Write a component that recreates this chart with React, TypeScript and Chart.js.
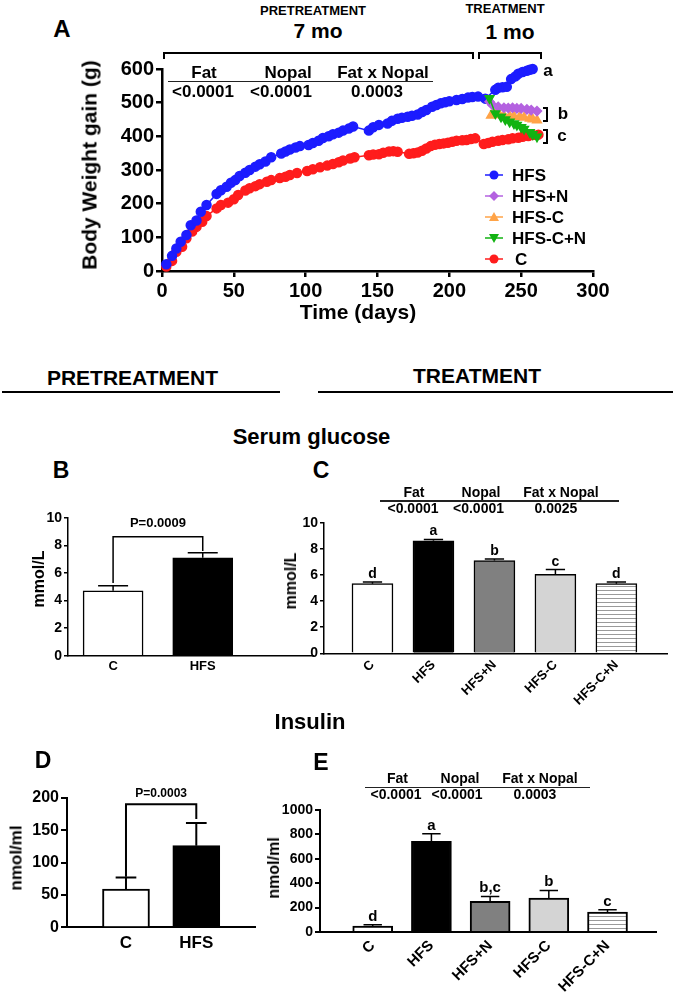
import React, { useEffect, useRef } from 'react';
import { Chart, registerables } from 'chart.js';

Chart.register(...registerables);

const FONT = 'Arial, "Liberation Sans", Helvetica, sans-serif';
Chart.defaults.font.family = FONT;
Chart.defaults.color = '#000';

// ---------------- Panel A: body weight gain ----------------
const xTicksA = [0, 50, 100, 150, 200, 250, 300];
const yTicksA = [0, 100, 200, 300, 400, 500, 600];

const hfsDays = [3, 7, 10, 13, 17, 20, 24, 27, 31, 38, 41, 45, 48, 51, 54, 58, 61, 65, 68, 72, 76, 83, 86, 89, 93, 96, 102, 105, 109, 112, 116, 119, 123, 126, 130, 133, 144, 147, 151, 157, 160, 164, 167, 171, 174, 178, 181, 184, 188, 191, 194, 197, 200, 205, 209, 213, 216, 220, 225, 232, 234, 237, 240, 243, 246, 248, 251, 254, 256, 258];
const hfsGain = [20, 45, 67, 87, 107, 136, 150, 176, 196, 229, 240, 250, 262, 270, 282, 292, 300, 310, 317, 325, 338, 349, 355, 361, 367, 371, 374, 380, 387, 395, 400, 406, 411, 417, 423, 429, 417, 427, 434, 438, 446, 452, 455, 458, 461, 465, 472, 478, 488, 493, 498, 501, 504, 508, 511, 515, 517, 518, 512, 538, 544, 546, 547, 570, 578, 586, 591, 595, 598, 600];

const cDays = [3, 7, 10, 14, 17, 21, 24, 28, 31, 38, 41, 46, 50, 53, 58, 61, 65, 68, 73, 76, 82, 86, 89, 94, 101, 105, 110, 115, 119, 123, 126, 131, 134, 144, 147, 151, 154, 158, 161, 164, 172, 175, 178, 181, 184, 187, 190, 193, 196, 199, 202, 205, 209, 212, 215, 218, 224, 227, 230, 234, 237, 241, 244, 248, 251, 255, 258, 262];
const cGain = [13, 30, 57, 72, 97, 117, 131, 146, 163, 186, 196, 203, 213, 226, 239, 246, 252, 258, 265, 270, 276, 280, 285, 291, 297, 302, 308, 313, 318, 323, 328, 334, 338, 344, 346, 347, 351, 355, 356, 354, 348, 350, 352, 357, 364, 371, 375, 377, 379, 381, 384, 387, 388, 389, 392, 394, 377, 380, 384, 387, 389, 391, 394, 396, 399, 401, 404, 405];

const hfsNDays = [228, 230, 234, 238, 241, 244, 247, 250, 254, 257, 261];
const hfsNGain = [503, 493, 488, 485, 484, 485, 483, 483, 480, 478, 475];

const hfsCDays = [229, 232, 235, 238, 242, 245, 249, 252, 256, 258, 261];
const hfsCGain = [462, 466, 463, 461, 460, 459, 458, 456, 453, 451, 448];

const hfsCNDays = [228, 232, 236, 239, 242, 245, 247, 250, 252, 256, 258, 261];
const hfsCNGain = [513, 468, 458, 450, 443, 438, 434, 427, 422, 412, 406, 399];

const legendNames = ['HFS', 'HFS+N', 'HFS-C', 'HFS-C+N', 'C'];

// ---------------- Stats tables ----------------
const statHeaders = ['Fat', 'Nopal', 'Fat x Nopal'];
const statsWeight = ['<0.0001', '<0.0001', '0.0003'];
const statsGlucose = ['<0.0001', '<0.0001', '0.0025'];
const statsInsulin = ['<0.0001', '<0.0001', '0.0003'];

// ---------------- Bar panels ----------------
const groupsPre = ['C', 'HFS'];
const groupsTreat = ['C', 'HFS', 'HFS+N', 'HFS-C', 'HFS-C+N'];

const glucoseTicks = [0, 2, 4, 6, 8, 10];
const glucosePreMean = [4.7, 7.1];
const glucosePreSem = [0.36, 0.36];
const glucosePreBracket = [8.62, 5.27, 7.59];
const glucosePreP = 'P=0.0009';

const glucoseTreatMean = [5.33, 8.62, 7.1, 6.05, 5.33];
const glucoseTreatSem = [0.13, 0.1, 0.13, 0.36, 0.13];
const glucoseLetters = ['d', 'a', 'b', 'c', 'd'];

const insulinPreTicks = [0, 50, 100, 150, 200];
const insulinPreMean = [59, 126];
const insulinPreSem = [18, 35];
const insulinPreBracket = [190, 78, 167];
const insulinPreP = 'P=0.0003';

const insulinTreatTicks = [0, 200, 400, 600, 800, 1000];
const insulinTreatMean = [49, 744, 251, 278, 164];
const insulinTreatSem = [11, 61, 41, 63, 19];
const insulinLetters = ['d', 'a', 'b,c', 'b', 'c'];

// ---------------- colours ----------------
const BLUE = '#1c1cff';
const PURPLE = '#b462e0';
const ORANGE = '#ffa347';
const GREEN = '#12b312';
const RED = '#ff1c1c';

type Box = { left: number; top: number; width: number; height: number };
type Area = { l: number; t: number; r: number; b: number };

function frame(box: Box, area: Area) {
  return {
    padding: { left: 0, top: area.t - box.top, right: box.left + box.width - area.r, bottom: 0 },
    yWidth: area.l - box.left,
    xHeight: box.top + box.height - area.b,
  };
}

function stripePattern(): any {
  const c = document.createElement('canvas');
  c.width = 8;
  c.height = 4;
  const g = c.getContext('2d')!;
  g.fillStyle = '#ffffff';
  g.fillRect(0, 0, 8, 4);
  g.fillStyle = '#9a9a9a';
  g.fillRect(0, 1, 8, 1);
  return g.createPattern(c, 'repeat');
}

function yAxis(min: number, max: number, ticks: number[], size: number, tickLen: number, bw: number, width: number) {
  return {
    type: 'linear',
    min,
    max,
    afterBuildTicks: (s: any) => {
      s.ticks = ticks.map((v) => ({ value: v }));
    },
    afterFit: (s: any) => {
      s.width = width;
    },
    grid: { display: true, drawOnChartArea: false, drawTicks: true, tickLength: tickLen, color: '#000', lineWidth: bw },
    border: { display: true, color: '#000', width: bw },
    ticks: {
      font: { size, weight: 'bold', family: FONT },
      color: '#000',
      padding: 2,
      callback: (v: any) => String(v),
    },
  };
}

function xGroups(min: number, max: number, labels: string[], size: number, bw: number, height: number, rot: number, pad: number) {
  return {
    type: 'linear',
    min,
    max,
    offset: false,
    afterBuildTicks: (s: any) => {
      s.ticks = labels.map((_, i) => ({ value: i + 1 }));
    },
    afterFit: (s: any) => {
      s.height = height;
    },
    grid: { display: false, drawTicks: false },
    border: { display: true, color: '#000', width: bw },
    ticks: {
      autoSkip: false,
      minRotation: rot,
      maxRotation: rot,
      padding: pad,
      font: { size, weight: 'bold', family: FONT },
      color: '#000',
      callback: (v: any) => labels[Math.round(Number(v)) - 1] ?? '',
    },
  };
}

function errorPlugin(means: number[], sems: number[], opts: any) {
  return {
    id: 'errbars',
    afterDatasetsDraw(chart: any) {
      const ctx = chart.ctx;
      const ys = chart.scales.y;
      const xs = chart.scales.x;
      const bars = chart.getDatasetMeta(0).data;
      ctx.save();
      ctx.strokeStyle = '#000';
      ctx.fillStyle = '#000';
      ctx.lineWidth = opts.lw;
      bars.forEach((bar: any, i: number) => {
        const x = bar.x;
        const w = bar.width;
        const y0 = ys.getPixelForValue(means[i]);
        const y1 = ys.getPixelForValue(means[i] + sems[i]);
        ctx.beginPath();
        ctx.moveTo(x, y0);
        ctx.lineTo(x, y1);
        ctx.moveTo(x - (w * opts.cap) / 2, y1);
        ctx.lineTo(x + (w * opts.cap) / 2, y1);
        ctx.stroke();
        if (opts.letters) {
          ctx.font = `bold ${opts.letterSize}px ${FONT}`;
          ctx.textAlign = 'center';
          ctx.textBaseline = 'alphabetic';
          ctx.fillText(opts.letters[i], x, y1 - 4);
        }
      });
      if (opts.bracket) {
        const [yv, lv, rv] = opts.bracket;
        const xl = xs.getPixelForValue(1);
        const xr = xs.getPixelForValue(2);
        const yb = ys.getPixelForValue(yv);
        ctx.beginPath();
        ctx.moveTo(xl, ys.getPixelForValue(lv));
        ctx.lineTo(xl, yb);
        ctx.lineTo(xr, yb);
        ctx.lineTo(xr, ys.getPixelForValue(rv));
        ctx.stroke();
        ctx.font = `bold ${opts.pSize}px ${FONT}`;
        ctx.textAlign = 'center';
        ctx.textBaseline = 'middle';
        ctx.fillText(opts.pText, (xl + xr) / 2, yb - opts.pGap);
      }
      ctx.restore();
    },
  };
}

function barConfig(box: Box, area: Area, p: any) {
  const f = frame(box, area);
  return {
    type: 'bar',
    data: {
      datasets: [
        {
          data: p.means.map((m: number, i: number) => ({ x: i + 1, y: m })),
          backgroundColor: p.fills,
          borderColor: '#000',
          borderWidth: p.bw,
          barThickness: p.thick,
          borderSkipped: 'start',
        },
      ],
    },
    options: {
      animation: false,
      responsive: false,
      devicePixelRatio: 1,
      layout: { padding: f.padding },
      plugins: { legend: { display: false }, tooltip: { enabled: false } },
      scales: {
        x: xGroups(p.xmin, p.xmax, p.labels, p.xFont, p.axisW, f.xHeight, p.rot, p.xPad),
        y: yAxis(0, p.ymax, p.yTicks, p.yFont, p.tickLen, p.axisW, f.yWidth),
      },
    },
    plugins: [errorPlugin(p.means, p.sems, p.err)],
  };
}

function pts(xs: number[], ys: number[]) {
  return xs.map((x, i) => ({ x, y: ys[i] }));
}

const boxA: Box = { left: 60, top: 40, width: 575, height: 265 };
const areaA: Area = { l: 162, t: 69, r: 593, b: 271 };

function buildA() {
  const f = frame(boxA, areaA);
  const ds = (label: string, data: any[], color: string, style: string, radius: number, rot = 0) => ({
    label,
    data,
    borderColor: color,
    backgroundColor: color,
    pointBackgroundColor: color,
    pointBorderColor: color,
    pointStyle: style,
    pointRadius: radius,
    pointRotation: rot,
    borderWidth: 1.5,
    tension: 0,
    clip: false,
  });
  return {
    type: 'line',
    data: {
      datasets: [
        ds('HFS-C+N', pts(hfsCNDays, hfsCNGain), GREEN, 'triangle', 5, 180),
        ds('HFS+N', pts(hfsNDays, hfsNGain), PURPLE, 'rectRot', 4.5),
        ds('HFS-C', pts(hfsCDays, hfsCGain), ORANGE, 'triangle', 5),
        ds('HFS', pts(hfsDays, hfsGain), BLUE, 'circle', 4.5),
        ds('C', pts(cDays, cGain), RED, 'circle', 4.5),
      ],
    },
    options: {
      animation: false,
      responsive: false,
      devicePixelRatio: 1,
      layout: { padding: f.padding },
      plugins: { legend: { display: false }, tooltip: { enabled: false } },
      scales: {
        x: {
          type: 'linear',
          min: 0,
          max: 300,
          afterBuildTicks: (s: any) => {
            s.ticks = xTicksA.map((v) => ({ value: v }));
          },
          afterFit: (s: any) => {
            s.height = f.xHeight;
          },
          grid: { display: true, drawOnChartArea: false, drawTicks: true, tickLength: 6, color: '#000', lineWidth: 2.5 },
          border: { display: true, color: '#000', width: 2.5 },
          ticks: { font: { size: 20, weight: 'bold', family: FONT }, color: '#000', padding: 2, callback: (v: any) => String(v) },
        },
        y: yAxis(0, 600, yTicksA, 20, 6, 2.5, f.yWidth),
      },
    },
  };
}

const boxB: Box = { left: 30, top: 500, width: 295, height: 180 };
const areaB: Area = { l: 68, t: 517.7, r: 313, b: 655.7 };
const boxC: Box = { left: 290, top: 505, width: 385, height: 225 };
const areaC: Area = { l: 324, t: 522.7, r: 667, b: 653.3 };
const boxD: Box = { left: 10, top: 780, width: 260, height: 180 };
const areaD: Area = { l: 67, t: 797.7, r: 255, b: 927.3 };
const boxE: Box = { left: 270, top: 795, width: 405, height: 202 };
const areaE: Area = { l: 320, t: 810, r: 656, b: 932 };

function treatFills() {
  return ['#ffffff', '#000000', '#808080', '#d4d4d4', stripePattern()];
}

const buildB = () =>
  barConfig(boxB, areaB, {
    means: glucosePreMean, sems: glucosePreSem, fills: ['#ffffff', '#000000'], bw: 1.5, thick: 60,
    xmin: 0.497, xmax: 3.23, labels: groupsPre, xFont: 13, axisW: 1.5, rot: 0, xPad: 3,
    ymax: 10, yTicks: glucoseTicks, yFont: 14, tickLen: 4,
    err: { lw: 1.5, cap: 0.5, bracket: glucosePreBracket, pText: glucosePreP, pSize: 13, pGap: 13 },
  });

const buildC = () =>
  barConfig(boxC, areaC, {
    means: glucoseTreatMean, sems: glucoseTreatSem, fills: treatFills(), bw: 1.5, thick: 41,
    xmin: 0.205, xmax: 5.83, labels: groupsTreat, xFont: 13, axisW: 1.5, rot: 45, xPad: 4,
    ymax: 10, yTicks: glucoseTicks, yFont: 14, tickLen: 4,
    err: { lw: 1.5, cap: 0.47, letters: glucoseLetters, letterSize: 14 },
  });

const buildD = () =>
  barConfig(boxD, areaD, {
    means: insulinPreMean, sems: insulinPreSem, fills: ['#ffffff', '#000000'], bw: 2, thick: 47,
    xmin: 0.161, xmax: 2.835, labels: groupsPre, xFont: 17, axisW: 2, rot: 0, xPad: 6,
    ymax: 200, yTicks: insulinPreTicks, yFont: 16, tickLen: 6,
    err: { lw: 2, cap: 0.44, bracket: insulinPreBracket, pText: insulinPreP, pSize: 12, pGap: 10 },
  });

const buildE = () =>
  barConfig(boxE, areaE, {
    means: insulinTreatMean, sems: insulinTreatSem, fills: treatFills(), bw: 2, thick: 40,
    xmin: 0.102, xmax: 5.826, labels: groupsTreat, xFont: 15, axisW: 2, rot: 45, xPad: 5,
    ymax: 1000, yTicks: insulinTreatTicks, yFont: 14, tickLen: 5,
    err: { lw: 1.5, cap: 0.46, letters: insulinLetters, letterSize: 15 },
  });

function ChartBox({ box, build }: { box: Box; build: () => any }) {
  const ref = useRef<HTMLCanvasElement>(null);
  useEffect(() => {
    const chart = new Chart(ref.current as HTMLCanvasElement, build());
    return () => chart.destroy();
  }, []);
  return (
    <canvas
      ref={ref}
      width={box.width}
      height={box.height}
      style={{ position: 'absolute', left: box.left, top: box.top, width: box.width, height: box.height }}
    />
  );
}

function T({ x, y, s, children, rot = false, left = false }: any) {
  return (
    <div
      style={{
        position: 'absolute',
        left: x,
        top: y,
        transform: `translate(${left ? '0' : '-50%'},-50%)${rot ? ' rotate(-90deg)' : ''}`,
        fontFamily: FONT,
        fontWeight: 'bold',
        fontSize: s,
        lineHeight: 1,
        whiteSpace: 'nowrap',
        color: '#000',
      }}
    >
      {children}
    </div>
  );
}

function HLine({ x1, x2, y, w = 1, color = '#000' }: any) {
  return <div style={{ position: 'absolute', left: x1, top: y - w / 2, width: x2 - x1, height: w, background: color }} />;
}

function Stats({ hx, hy, vx, vy, ly, lx1, lx2, s, values }: any) {
  return (
    <>
      {statHeaders.map((h, i) => (
        <T key={'h' + i} x={hx[i]} y={hy} s={s}>{h}</T>
      ))}
      <HLine x1={lx1} x2={lx2} y={ly} w={1.3} color="#222" />
      {values.map((v: string, i: number) => (
        <T key={'v' + i} x={vx[i]} y={vy} s={s}>{v}</T>
      ))}
    </>
  );
}

function Marker({ kind, color }: { kind: string; color: string }) {
  let shape: any = null;
  if (kind === 'circle') shape = <circle cx={9} cy={6} r={4.5} fill={color} />;
  if (kind === 'diamond') shape = <polygon points="9,1 14,6 9,11 4,6" fill={color} />;
  if (kind === 'up') shape = <polygon points="9,1 14,10 4,10" fill={color} />;
  if (kind === 'down') shape = <polygon points="4,2 14,2 9,11" fill={color} />;
  return (
    <svg width={18} height={12} style={{ display: 'block' }}>
      <line x1={0} y1={6} x2={18} y2={6} stroke={color} strokeWidth={1.5} />
      {shape}
    </svg>
  );
}

const legendColors = [BLUE, PURPLE, ORANGE, GREEN, RED];
const legendKinds = ['circle', 'diamond', 'up', 'down', 'circle'];
const legendY = [175, 196, 217, 238, 259];

function Bracket({ x, y, h }: any) {
  return (
    <div
      style={{
        position: 'absolute', left: x, top: y, width: 5, height: h,
        borderTop: '2px solid #000', borderRight: '2px solid #000', borderBottom: '2px solid #000', boxSizing: 'border-box',
      }}
    />
  );
}

export default function App() {
  return (
    <div style={{ position: 'absolute', left: 0, top: 0, width: 675, height: 997, background: '#fff', overflow: 'hidden' }}>
      {/* Panel A headers */}
      <T x={62} y={28.5} s={24}>A</T>
      <T x={313} y={9.5} s={13}>PRETREATMENT</T>
      <T x={318} y={29.5} s={21}>7 mo</T>
      <T x={505} y={7.5} s={13}>TREATMENT</T>
      <T x={510} y={30.5} s={21}>1 mo</T>
      <div style={{ position: 'absolute', left: 163, top: 52, width: 311, height: 7, borderTop: '2px solid #000', borderLeft: '2px solid #000', borderRight: '2px solid #000', boxSizing: 'border-box' }} />
      <div style={{ position: 'absolute', left: 478, top: 52, width: 64, height: 7, borderTop: '2px solid #000', borderLeft: '2px solid #000', borderRight: '2px solid #000', boxSizing: 'border-box' }} />

      <ChartBox box={boxA} build={buildA} />
      <T x={89} y={165} s={21} rot>Body Weight gain (g)</T>
      <T x={358} y={311} s={21}>Time (days)</T>
      <Stats hx={[204, 288, 383]} hy={72} vx={[203, 281, 377]} vy={91} ly={81.7} lx1={168} lx2={433} s={17} values={statsWeight} />

      {legendNames.map((n, i) => (
        <React.Fragment key={n}>
          <div style={{ position: 'absolute', left: 485, top: legendY[i] - 6 }}>
            <Marker kind={legendKinds[i]} color={legendColors[i]} />
          </div>
          <T x={n === 'C' ? 515 : 512} y={legendY[i]} s={17} left>{n}</T>
        </React.Fragment>
      ))}

      <T x={548} y={70} s={17}>a</T>
      <Bracket x={543} y={107} h={15} />
      <T x={563} y={113} s={17}>b</T>
      <Bracket x={543} y={129} h={15} />
      <T x={562} y={135} s={17}>c</T>

      {/* Section headers */}
      <T x={132.5} y={377} s={21}>PRETREATMENT</T>
      <HLine x1={2} x2={280} y={392.3} w={2} />
      <T x={477} y={375} s={21}>TREATMENT</T>
      <HLine x1={318} x2={673} y={392.3} w={2} />

      <T x={311.5} y={436.5} s={22}>Serum glucose</T>
      <T x={61} y={470} s={23}>B</T>
      <T x={321} y={470} s={23}>C</T>
      <ChartBox box={boxB} build={buildB} />
      <ChartBox box={boxC} build={buildC} />
      <T x={39} y={579} s={16} rot>mmol/L</T>
      <T x={291} y={581} s={16} rot>mmol/L</T>
      <Stats hx={[414, 481, 561]} hy={492} vx={[413, 478.5, 556]} vy={508} ly={501} lx1={380} lx2={619} s={14} values={statsGlucose} />

      <T x={310} y={721.5} s={22}>Insulin</T>
      <T x={43} y={760} s={23}>D</T>
      <T x={321} y={762} s={23}>E</T>
      <ChartBox box={boxD} build={buildD} />
      <ChartBox box={boxE} build={buildE} />
      <T x={16} y={858} s={17} rot>nmol/ml</T>
      <T x={274} y={868} s={16} rot>nmol/ml</T>
      <Stats hx={[397.5, 460, 540]} hy={777.5} vx={[396, 457, 535]} vy={794} ly={787.3} lx1={365} lx2={590} s={14} values={statsInsulin} />
    </div>
  );
}
